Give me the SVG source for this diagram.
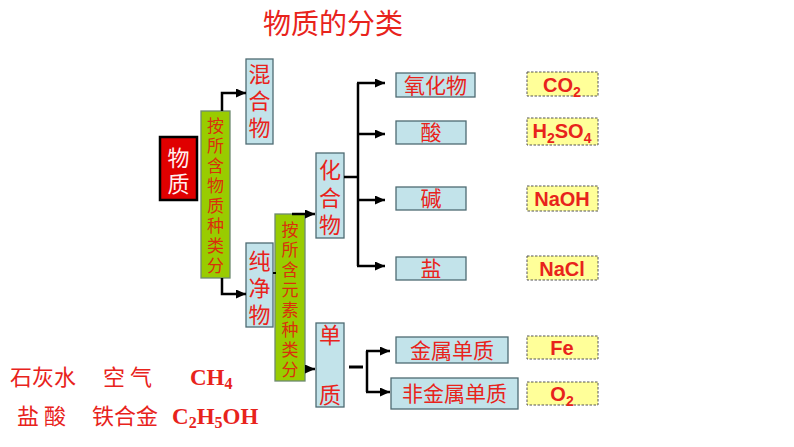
<svg xmlns="http://www.w3.org/2000/svg" width="794" height="447" viewBox="0 0 794 447">
<defs>
<marker id="ah" markerUnits="userSpaceOnUse" markerWidth="10" markerHeight="9" refX="10" refY="4.5" orient="auto">
<path d="M0,0 L10,4.5 L0,9 z" fill="#000"/>
</marker>
<style>
.cjk{font-family:"Noto Sans CJK SC","Noto Sans CJK JP",sans-serif;fill:#E8231C;text-anchor:middle}
.blue{fill:#C2E3EA;stroke:#4E6B72;stroke-width:1.3}
.green{fill:#99CC00;stroke:#6E8A70;stroke-width:1.3}
.gt{fill:#D9300C}
.form{fill:#FFFF99;stroke:#555;stroke-width:1;stroke-dasharray:2.5,1.5}
.ftxt{font-family:"Liberation Sans",Arial,sans-serif;font-weight:bold;font-size:20px;fill:#E8231C;text-anchor:middle}
.bot{font-family:"Noto Sans CJK SC",sans-serif;font-size:22px;fill:#E8231C}
.botf{font-family:"Liberation Serif","Times New Roman",serif;font-weight:bold;font-size:23px;fill:#E8231C}
.ln{fill:none;stroke:#000;stroke-width:2.5}
</style>
</defs>
<rect width="794" height="447" fill="#fff"/>
<text class="cjk" x="333" y="34" font-size="28">物质的分类</text>

<g id="wuzhi">
<rect x="160" y="137" width="37" height="63" fill="#E00000" stroke="#000" stroke-width="2.5"/>
<text class="cjk" x="178.5" y="166" font-size="22" style="fill:#FFF0F0">物</text>
<text class="cjk" x="178.5" y="192" font-size="22" style="fill:#FFF0F0">质</text>
</g>

<g id="fenlei1">
<rect class="green" x="201" y="111" width="29" height="167"/>
<text class="cjk gt" x="215.5" y="132" font-size="17">按</text>
<text class="cjk gt" x="215.5" y="152" font-size="17">所</text>
<text class="cjk gt" x="215.5" y="172" font-size="17">含</text>
<text class="cjk gt" x="215.5" y="192" font-size="17">物</text>
<text class="cjk gt" x="215.5" y="212" font-size="17">质</text>
<text class="cjk gt" x="215.5" y="232" font-size="17">种</text>
<text class="cjk gt" x="215.5" y="252" font-size="17">类</text>
<text class="cjk gt" x="215.5" y="272" font-size="17">分</text>
</g>

<g id="hunhewu">
<rect class="blue" x="246" y="59" width="27" height="85"/>
<text class="cjk" x="259.5" y="82" font-size="22">混</text>
<text class="cjk" x="259.5" y="109" font-size="22">合</text>
<text class="cjk" x="259.5" y="136" font-size="22">物</text>
</g>

<g id="chunjingwu">
<rect class="blue" x="246" y="243" width="27" height="84"/>
<text class="cjk" x="259.5" y="269" font-size="22">纯</text>
<text class="cjk" x="259.5" y="296" font-size="22">净</text>
<text class="cjk" x="259.5" y="323" font-size="22">物</text>
</g>

<g id="fenlei2">
<rect class="green" x="275" y="214" width="30" height="167"/>
<text class="cjk gt" x="290" y="236" font-size="17">按</text>
<text class="cjk gt" x="290" y="256" font-size="17">所</text>
<text class="cjk gt" x="290" y="276" font-size="17">含</text>
<text class="cjk gt" x="290" y="296" font-size="17">元</text>
<text class="cjk gt" x="290" y="316" font-size="17">素</text>
<text class="cjk gt" x="290" y="336" font-size="17">种</text>
<text class="cjk gt" x="290" y="356" font-size="17">类</text>
<text class="cjk gt" x="290" y="376" font-size="17">分</text>
</g>

<g id="huahewu">
<rect class="blue" x="316" y="153" width="28" height="85"/>
<text class="cjk" x="330" y="178" font-size="22">化</text>
<text class="cjk" x="330" y="206" font-size="22">合</text>
<text class="cjk" x="330" y="233" font-size="22">物</text>
</g>

<g id="danzhi">
<rect class="blue" x="316" y="323" width="28" height="84"/>
<text class="cjk" x="330" y="343" font-size="22">单</text>
<text class="cjk" x="330" y="403" font-size="22">质</text>
</g>

<g id="yanghuawu">
<rect class="blue" x="396" y="73" width="79" height="24"/>
<text class="cjk" x="435.5" y="93" font-size="21">氧化物</text>
</g>
<g id="suan">
<rect class="blue" x="396" y="121" width="70" height="23"/>
<text class="cjk" x="431" y="140" font-size="21">酸</text>
</g>
<g id="jian">
<rect class="blue" x="396" y="187" width="70" height="23"/>
<text class="cjk" x="431" y="206" font-size="21">碱</text>
</g>
<g id="yan">
<rect class="blue" x="396" y="257" width="70" height="23"/>
<text class="cjk" x="431" y="276" font-size="21">盐</text>
</g>
<g id="jinshu">
<rect class="blue" x="396" y="337" width="112" height="26"/>
<text class="cjk" x="452" y="358" font-size="21">金属单质</text>
</g>
<g id="feijinshu">
<rect class="blue" x="391" y="378" width="127" height="31"/>
<text class="cjk" x="454.5" y="401" font-size="21">非金属单质</text>
</g>

<g id="co2">
<rect class="form" x="527" y="72" width="71" height="24"/>
<text class="ftxt" x="562" y="92">CO<tspan font-size="14" dy="5">2</tspan></text>
</g>
<g id="h2so4">
<rect class="form" x="527" y="118" width="71" height="27"/>
<text class="ftxt" x="562" y="138">H<tspan font-size="14" dy="5">2</tspan><tspan dy="-5">SO</tspan><tspan font-size="14" dy="5">4</tspan></text>
</g>
<g id="naoh">
<rect class="form" x="527" y="186" width="71" height="25"/>
<text class="ftxt" x="562" y="206">NaOH</text>
</g>
<g id="nacl">
<rect class="form" x="527" y="256" width="71" height="24"/>
<text class="ftxt" x="562" y="276">NaCl</text>
</g>
<g id="fe">
<rect class="form" x="527" y="336" width="71" height="23"/>
<text class="ftxt" x="562" y="355">Fe</text>
</g>
<g id="o2">
<rect class="form" x="527" y="382" width="71" height="23"/>
<text class="ftxt" x="562" y="401">O<tspan font-size="14" dy="5">2</tspan></text>
</g>

<g id="connectors" class="ln">
<path d="M222,111 V93 H246" marker-end="url(#ah)"/>
<path d="M222,278 V294 H246" marker-end="url(#ah)"/>
<path d="M273,273 H276" stroke-width="2"/>
<path d="M292,214 H315" marker-end="url(#ah)"/>
<path d="M305,369 H315" marker-end="url(#ah)"/>
<path d="M344,177 H358"/>
<path d="M358,83 V266"/>
<path d="M357,83 H385" marker-end="url(#ah)"/>
<path d="M358,134 H385" marker-end="url(#ah)"/>
<path d="M358,200 H385" marker-end="url(#ah)"/>
<path d="M357,266 H385" marker-end="url(#ah)"/>
<path d="M349,367 H363" stroke-width="3"/>
<path d="M367,351 V392"/>
<path d="M366,351 H390" marker-end="url(#ah)"/>
<path d="M366,392 H390" marker-end="url(#ah)"/>
</g>

<text class="bot" x="10" y="385">石灰水</text>
<text class="bot" x="103" y="385">空 气</text>
<text class="botf" x="190" y="385">CH<tspan font-size="16" dy="4">4</tspan></text>
<text class="bot" x="17" y="424">盐 酸</text>
<text class="bot" x="92" y="424">铁合金</text>
<text class="botf" x="172" y="424">C<tspan font-size="16" dy="4">2</tspan><tspan dy="-4">H</tspan><tspan font-size="16" dy="4">5</tspan><tspan dy="-4">OH</tspan></text>
</svg>
